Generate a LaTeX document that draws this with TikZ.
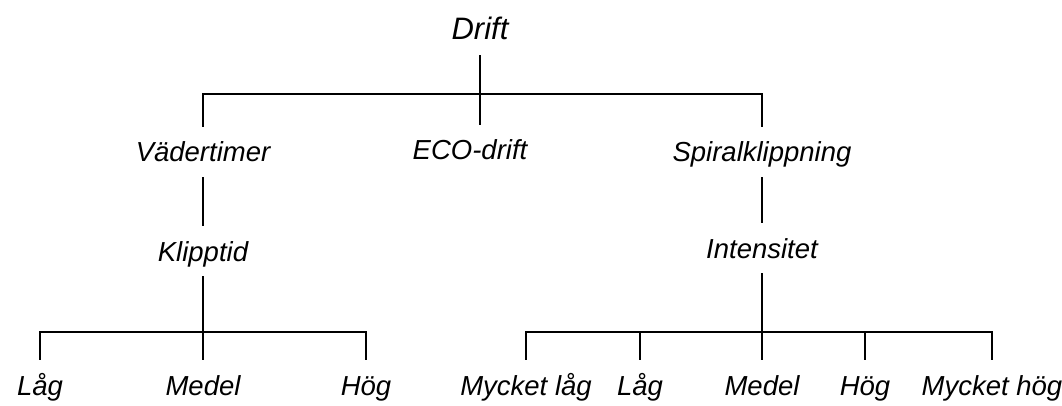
\documentclass[tikz,border=0pt]{standalone}
\usepackage{fontspec}
\setmainfont{Liberation Sans}

\begin{document}
\begin{tikzpicture}[x=1pt, y=-1pt,
    item/.style={font=\fontsize{27.5}{32}\selectfont\itshape, inner sep=0pt, minimum height=50pt, text height=23pt, text depth=3pt},
    treeline/.style={line width=2.6pt}]
    \useasboundingbox (0,0) rectangle (1062,406);

    \node[item, font=\fontsize{31}{38}\selectfont\itshape] (drift) at (480,30) {Drift};
    \node[item] (vad) at (203,152) {Vädertimer};
    \node[item] (eco) at (470,150) {ECO-drift};
    \node[item] (spiral) at (762,152) {Spiralklippning};
    \node[item] (klipp) at (203,251) {Klipptid};
    \node[item] (intens) at (762,248) {Intensitet};

    \foreach \n/\x/\t in {laglo/40/Låg, medello/203/Medel, hoglo/366/Hög,
                          mlagri/526/Mycket låg, lagri/640/Låg, medelri/762/Medel, hogri/865/Hög, mhogri/992/Mycket hög} {
        \node[item] (\n) at (\x,385) {\t};
    }

    % top level
    \coordinate (topbar) at (480,94);
    \draw[treeline] (drift.south) -- (drift.south |- eco.north);
    \draw[treeline] (vad.north) |- (topbar) -| (spiral.north);
    \draw[treeline] (vad) -- (klipp);
    \draw[treeline] (spiral) -- (intens);

    % left leaves
    \coordinate (lowleft) at (203,332);
    \draw[treeline] (klipp.south) -- (klipp.south |- medello.north);
    \draw[treeline] (laglo.north) |- (lowleft) -| (hoglo.north);

    % right leaves
    \coordinate (lowright) at (762,332);
    \draw[treeline] (intens.south) -- (intens.south |- medelri.north);
    \draw[treeline] (mlagri.north) |- (lowright) -| (mhogri.north);
    \foreach \n in {lagri, hogri} {
        \draw[treeline] (\n.north) -- (\n.north |- lowright);
    }
\end{tikzpicture}
\end{document}
